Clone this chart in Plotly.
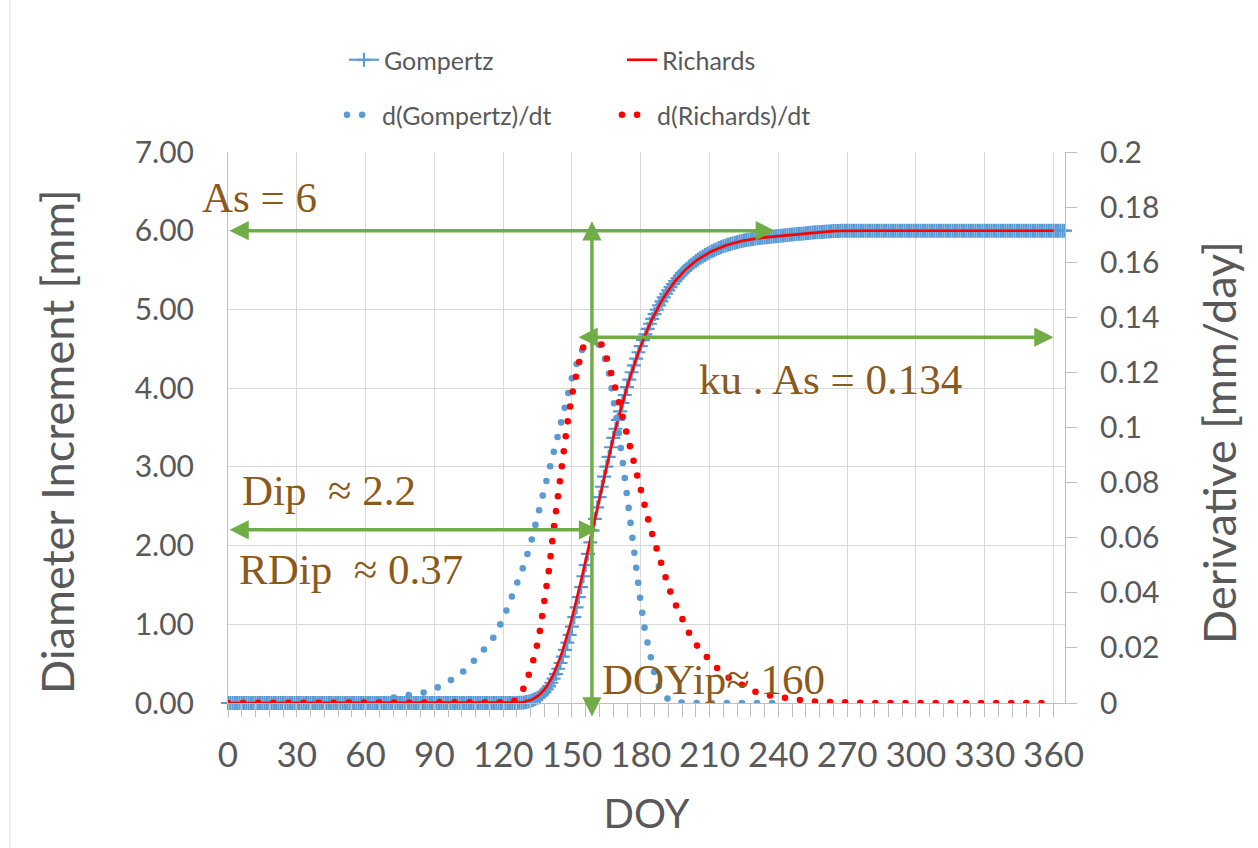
import plotly.graph_objects as go

# ---------------- data ----------------
# cumulative curves, daily values; rise part listed explicitly
RICH_RISE_START = 124
RICH_RISE = [
    0.000, 0.001, 0.002, 0.004, 0.007, 0.012, 0.018, 0.026, 0.037, 0.050,   # 124-133
    0.066, 0.086, 0.110, 0.139, 0.172, 0.211, 0.257, 0.309, 0.368, 0.435,   # 134-143
    0.508, 0.589, 0.675, 0.768, 0.866, 0.970, 1.080, 1.194, 1.312, 1.434,   # 144-153
    1.560, 1.688, 1.818, 1.951, 2.084, 2.217, 2.351, 2.484, 2.616, 2.747,   # 154-163
    2.876, 3.003, 3.127, 3.249, 3.368, 3.484, 3.596, 3.705, 3.811, 3.913,   # 164-173
    4.013, 4.109, 4.202, 4.290, 4.375, 4.456, 4.535, 4.610, 4.683, 4.752,   # 174-183
    4.818, 4.881, 4.941, 4.998, 5.052, 5.103, 5.152, 5.199, 5.242, 5.284,   # 184-193
    5.323, 5.360, 5.395, 5.428, 5.460, 5.489, 5.518, 5.544, 5.569, 5.592,   # 194-203
    5.614, 5.635, 5.655, 5.674, 5.691, 5.708, 5.724, 5.739, 5.753, 5.766,   # 204-213
    5.779, 5.791, 5.802, 5.812, 5.822, 5.831, 5.839, 5.848, 5.855, 5.862,   # 214-223
    5.869, 5.875, 5.881, 5.886, 5.891, 5.896, 5.900, 5.904, 5.908, 5.912,   # 224-233
    5.915, 5.918, 5.921, 5.924, 5.927, 5.930, 5.933, 5.936, 5.939, 5.942,   # 234-243
    5.945, 5.948, 5.951, 5.954, 5.957, 5.960, 5.963, 5.966, 5.969, 5.972,   # 244-253
    5.975, 5.977, 5.979, 5.981, 5.983, 5.985, 5.987, 5.989, 5.991, 5.993,   # 254-263
    5.995, 5.996, 5.997, 5.998, 5.999,                                      # 264-268
]
# Gompertz starts a little later in its lower part (days 124-160)
GOMP_LOW = [
    0.000, 0.000, 0.001, 0.002, 0.004, 0.007, 0.012, 0.018, 0.026, 0.037,   # 124-133
    0.050, 0.066, 0.086, 0.110, 0.139, 0.172, 0.211, 0.257, 0.309, 0.368,   # 134-143
    0.435, 0.508, 0.589, 0.675, 0.768, 0.866, 0.970, 1.092, 1.215, 1.345,   # 144-153
    1.473, 1.610, 1.752, 1.895, 2.040, 2.190, 2.340,                        # 154-160
]
GOMP_LAST_DAY = 365
RICH_LAST_DAY = 360

doy_gomp = list(range(0, GOMP_LAST_DAY + 1))
doy_rich = list(range(0, RICH_LAST_DAY + 1))
gompertz = ([0.0] * RICH_RISE_START + GOMP_LOW + RICH_RISE[len(GOMP_LOW):]
            + [6.0] * (GOMP_LAST_DAY + 1 - RICH_RISE_START - len(RICH_RISE)))
richards = ([0.0] * RICH_RISE_START + RICH_RISE
            + [6.0] * (RICH_LAST_DAY + 1 - RICH_RISE_START - len(RICH_RISE)))

# derivatives (right axis, mm/day)
dgomp_doy = [0, 40, 50, 60, 65, 70, 75, 80, 85, 90, 95, 100, 105, 110, 115, 120,
             123, 126, 129, 132, 135, 138, 141, 144, 147, 150, 152, 154, 156, 158,
             160, 162, 164, 166, 168, 170, 172, 174, 176, 178, 180, 182, 184, 186,
             188, 190, 192, 195, 200, 243]
dgomp = [0, 0, 0.0002, 0.0006, 0.001, 0.0016, 0.0022, 0.0027, 0.0037, 0.005, 0.0072,
         0.0096, 0.0132, 0.0175, 0.0226, 0.0305, 0.0366, 0.0433, 0.0499, 0.0578,
         0.0671, 0.0766, 0.0877, 0.0975, 0.1082, 0.118, 0.123, 0.1282, 0.1315,
         0.1332, 0.1328, 0.1298, 0.1262, 0.1205, 0.1115, 0.1005, 0.0884, 0.0748,
         0.062, 0.0494, 0.0362, 0.0254, 0.0174, 0.0106, 0.0058, 0.003, 0.0012,
         0.0003, 0, 0]

drich_doy = [0, 120, 124, 126, 128, 130, 132, 134, 136, 138, 140, 142, 144, 146, 148,
             150, 152, 154, 156, 158, 160, 162, 164, 166, 168, 170, 172, 174, 176,
             178, 180, 182, 184, 186, 188, 190, 192, 194, 196, 198, 201, 205, 209,
             213, 218, 224, 230, 237, 243, 250, 256, 263, 270, 280, 356]
drich = [0, 0, 0.0003, 0.0015, 0.0038, 0.0072, 0.0118, 0.0178, 0.0262, 0.0362,
         0.0485, 0.063, 0.0772, 0.0893, 0.1015, 0.1118, 0.1203, 0.127, 0.1315,
         0.1336, 0.1332, 0.1315, 0.1283, 0.1232, 0.1172, 0.1108, 0.1039, 0.098,
         0.0904, 0.083, 0.0767, 0.0712, 0.0641, 0.0585, 0.0527, 0.0476, 0.0425,
         0.0378, 0.0343, 0.0305, 0.0255, 0.0202, 0.0162, 0.0129, 0.0093, 0.0064,
         0.0041, 0.0026, 0.0017, 0.001, 0.0005, 0.0002, 0.0001, 0, 0]

# annotated quantities
AS = 6.0
DIP = 2.2
DOY_IP = 158.7
KU_AS = 0.1328
AS_ARROW_END = 238.5
DIP_ARROW_END = 161.4
KU_ARROW_START = 152.2
KU_ARROW_END = 360

X_TICKS = list(range(0, 361, 30))

# ---------------- style ----------------
BLUE = "#5B9BD5"
RED = "#FF0000"
GREEN = "#70AD47"
BROWN = "#8B5A1B"
GREY_TXT = "#595959"
GRID = "#D9D9D9"
AXIS = "#BFBFBF"
SANS = "Lato"
SERIF = "Liberation Serif"

W, H = 1258, 848
ML, MR, MT, MB = 228, 193, 152, 145
PW, PH = W - ML - MR, H - MT - MB


def px_x(x):
    return (x - ML) / PW


def px_y(y):
    return (H - MB - y) / PH


fig = go.Figure()
fig.add_trace(go.Scatter(
    x=doy_gomp, y=gompertz, name="Gompertz", mode="lines+markers",
    line=dict(color=BLUE, width=2.2),
    marker=dict(symbol="cross-thin", size=10, line=dict(color=BLUE, width=2.2)),
    cliponaxis=False, legend="legend"))
fig.add_trace(go.Scatter(
    x=doy_rich, y=richards, name="Richards", mode="lines",
    line=dict(color=RED, width=2.6), legend="legend"))
fig.add_trace(go.Scatter(
    x=dgomp_doy, y=dgomp, name="d(Gompertz)/dt", mode="lines", yaxis="y2",
    line=dict(color=BLUE, width=6.6, dash="6px,9px"), legend="legend2"))
fig.add_trace(go.Scatter(
    x=drich_doy, y=drich, name="d(Richards)/dt", mode="lines", yaxis="y2",
    line=dict(color=RED, width=6.6, dash="6px,9px"), legend="legend2"))

tick_font_x = dict(family=SANS, size=35, color=GREY_TXT)
tick_font_y = dict(family=SANS, size=30, color=GREY_TXT)
ytitle_font = dict(family=SANS, size=45, color=GREY_TXT)
xtitle_font = dict(family=SANS, size=40, color=GREY_TXT)
legend_font = dict(family=SANS, size=25, color=GREY_TXT)

fig.update_layout(
    width=W, height=H,
    margin=dict(l=ML, r=MR, t=MT, b=MB, pad=0),
    paper_bgcolor="white", plot_bgcolor="white",
    font=dict(family=SANS, color=GREY_TXT),
    xaxis=dict(
        range=[0, 365], tickmode="array", tickvals=X_TICKS,
        showgrid=True, gridcolor=GRID, gridwidth=1, zeroline=False,
        showline=True, linecolor=AXIS, linewidth=1,
        ticks="outside", ticklen=13, tickcolor=AXIS, tickwidth=1,
        minor=dict(dtick=6, tick0=0, ticks="outside", ticklen=13, tickcolor=AXIS, showgrid=False),
        tickfont=tick_font_x, ticklabelstandoff=8,
        title=dict(text="DOY", font=xtitle_font, standoff=26),
    ),
    yaxis=dict(
        range=[0, 7], dtick=1, tickformat=".2f",
        showgrid=True, gridcolor=GRID, gridwidth=1, zeroline=False,
        showline=True, linecolor=AXIS, linewidth=1, ticks="",
        tickfont=tick_font_y, ticklabelstandoff=27,
    ),
    yaxis2=dict(
        range=[0, 0.2], dtick=0.02, overlaying="y", side="right",
        showgrid=False, zeroline=False,
        showline=True, linecolor=AXIS, linewidth=1,
        ticks="outside", ticklen=11, tickcolor=AXIS,
        tickfont=tick_font_y, ticklabelstandoff=17,
    ),
    legend=dict(orientation="h", x=px_x(344), xanchor="left", y=px_y(60), yanchor="middle",
                entrywidth=233, entrywidthmode="pixels", font=legend_font,
                bgcolor="rgba(0,0,0,0)", itemwidth=30),
    legend2=dict(orientation="h", x=px_x(342), xanchor="left", y=px_y(115), yanchor="middle",
                 entrywidth=230, entrywidthmode="pixels", font=legend_font,
                 bgcolor="rgba(0,0,0,0)", itemwidth=30),
    showlegend=True,
)

# y axis titles (placed like the reference, slightly below the plot centre)
fig.add_annotation(text="Diameter Increment [mm]", x=px_x(57), y=px_y(442), xref="paper", yref="paper",
                   xanchor="center", yanchor="middle", textangle=-90, showarrow=False, font=ytitle_font)
fig.add_annotation(text="Derivative [mm/day]", x=px_x(1219), y=px_y(443), xref="paper", yref="paper",
                   xanchor="center", yanchor="middle", textangle=-90, showarrow=False, font=ytitle_font)

# outer chart border (left edge visible)
fig.add_shape(type="line", xref="paper", yref="paper",
              x0=px_x(10), x1=px_x(10), y0=px_y(H), y1=px_y(0),
              line=dict(color=GRID, width=1))

# green double-headed arrows
arrow_common = dict(text="", showarrow=True, arrowcolor=GREEN, arrowwidth=3.5,
                    arrowhead=2, startarrowhead=2, arrowsize=1.1, startarrowsize=1.1,
                    arrowside="end+start", standoff=0, startstandoff=0)
fig.add_annotation(x=AS_ARROW_END, y=AS, ax=0, ay=AS, xref="x", yref="y",
                   axref="x", ayref="y", **arrow_common)
fig.add_annotation(x=DOY_IP, y=6.12, ax=DOY_IP, ay=-0.19, xref="x", yref="y",
                   axref="x", ayref="y", **arrow_common)
fig.add_annotation(x=KU_ARROW_END, y=KU_AS, ax=KU_ARROW_START, ay=KU_AS, xref="x", yref="y2",
                   axref="x", ayref="y2", **arrow_common)
fig.add_annotation(x=DIP_ARROW_END, y=DIP, ax=0, ay=DIP, xref="x", yref="y",
                   axref="x", ayref="y", **arrow_common)

# brown labels
label_font = dict(family=SERIF, size=43, color=BROWN)
labels = [
    ("As = 6", 200, 197.5),
    ("ku . As = 0.134", 697, 379.5),
    ("Dip\u00a0\u00a0≈ 2.2", 240, 490.5),
    ("RDip\u00a0\u00a0≈ 0.37", 237, 569),
    ("DOYip≈ 160", 600, 679),
]
for txt, lx, ly in labels:
    fig.add_annotation(text=txt, x=px_x(lx), y=px_y(ly), xref="paper", yref="paper",
                       xanchor="left", yanchor="middle", showarrow=False, font=label_font)

post = """
var gd = document.getElementById('{plot_id}');
function roundDots(){
  gd.querySelectorAll('path.js-line').forEach(function(p){
    var d = p.style.strokeDasharray;
    if (d && d !== 'none') {
      p.style.strokeLinecap = 'round';
      p.style.strokeDasharray = '0px, 15.1px';
    }
  });
}
roundDots();
gd.on('plotly_afterplot', roundDots);
"""

fig.write_html("out.html", post_script=post)
